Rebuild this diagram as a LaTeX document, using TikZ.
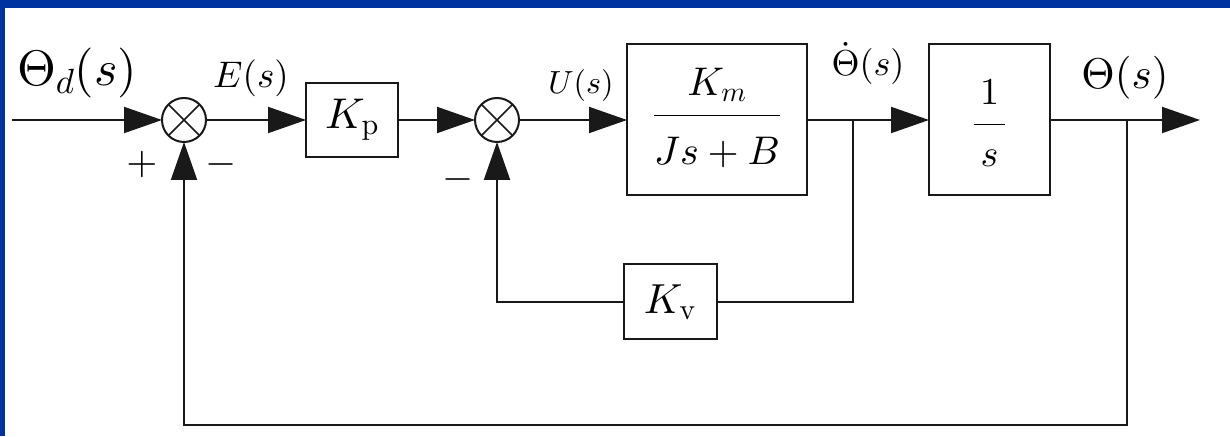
\RequirePackage{fix-cm}
\documentclass[tikz,border=0pt]{standalone}
\usepackage{amsmath}
\usetikzlibrary{arrows.meta, positioning}
\DeclareFontShape{OT1}{cmr}{m}{n}{<->cmr10}{}
\DeclareFontShape{OMS}{cmsy}{m}{n}{<->cmsy10}{}
\DeclareFontShape{OML}{cmm}{m}{it}{<->cmmi10}{}
\definecolor{frameblue}{HTML}{0033A0}

\begin{document}
\begin{tikzpicture}[x=1pt, y=1pt, node distance=100pt,
    wire/.style={line width=2pt, draw=black!90},
    arrow/.style={wire, -{Triangle[length=38pt, width=26pt]}},
    block/.style={draw=black!90, line width=2pt, fill=white, inner sep=0pt, outer sep=0pt},
    sumnode/.style={draw=black!90, line width=2pt, circle, minimum size=44pt, inner sep=0pt, outer sep=0pt,
        path picture={\draw[line width=1.6pt, black!90]
            (path picture bounding box.north west) -- (path picture bounding box.south east)
            (path picture bounding box.south west) -- (path picture bounding box.north east);}},
    lbl/.style={inner sep=0pt, anchor=base},
    sign/.style={inner sep=0pt, font=\fontsize{40}{44}\selectfont}]

  % frame
  \useasboundingbox (0,0) rectangle (1230,436);
  \fill[white] (0,0) rectangle (1230,436);
  \fill[frameblue] (0,428) rectangle (1230,436);
  \fill[frameblue] (0,0) rectangle (5,436);

  % forward path
  \coordinate (in) at (12,316);
  \node[sumnode] (sum1) at (184,316) {};
  \node[block, right=100pt of sum1, minimum width=92pt, minimum height=74pt,
        font=\fontsize{43}{50}\selectfont] (kp) {$K_{\mathrm{p}}$};
  \node[sumnode, right=77pt of kp] (sum2) {};
  \node[block, right=108pt of sum2, minimum width=180pt, minimum height=151pt,
        font=\fontsize{40}{48}\selectfont] (motor)
        {$\displaystyle\frac{K_m\rule[-16pt]{0pt}{16pt}}{\rule[-7pt]{0pt}{53pt}Js+B}$};
  \node[block, right=122pt of motor, minimum width=121pt, minimum height=151pt,
        font=\fontsize{38}{46}\selectfont] (integ)
        {$\displaystyle\frac{\,1\rule[-17pt]{0pt}{48pt}\,}{\rule{0pt}{38pt}s}$};
  \coordinate (out) at (1200,316);

  % feedback
  \node[block, minimum width=93pt, minimum height=75pt,
        font=\fontsize{42}{50}\selectfont] (kv) at (670,134) {$K_{\mathrm{v}}$};
  \coordinate (veltap) at (853,316);
  \coordinate (postap) at (1127,316);
  \coordinate (loopbot) at (1127,11);

  % signals
  \node[lbl, font=\fontsize{50}{56}\selectfont] (thetad) at (77,350) {$\Theta_d(s)$};
  \node[lbl, font=\fontsize{37}{42}\selectfont] (err) at (251,348) {$E(s)$};
  \node[lbl, font=\fontsize{32}{38}\selectfont] (ctrl) at (581,342) {$U(s)$};
  \node[lbl, font=\fontsize{36}{42}\selectfont] (vel) at (868,360) {$\dot{\Theta}(s)$};
  \node[lbl, font=\fontsize{43}{50}\selectfont] (pos) at (1125,347) {$\Theta(s)$};
  \node[sign] (plus1) at (142,271) {$+$};
  \node[sign] (minus1) at (221,271) {$-$};
  \node[sign] (minus2) at (458,256) {$-$};

  \draw[arrow] (in) -- (sum1);
  \draw[arrow] (sum1) -- (kp);
  \draw[arrow] (kp) -- (sum2);
  \draw[arrow] (sum2) -- (motor);
  \draw[arrow] (motor) -- (integ);
  \draw[arrow] (integ) -- (out);
  \draw[wire] (veltap) |- (kv);
  \draw[arrow] (kv) -| (sum2);
  \draw[arrow] (postap) -- (loopbot) -| (sum1);
\end{tikzpicture}
\end{document}
